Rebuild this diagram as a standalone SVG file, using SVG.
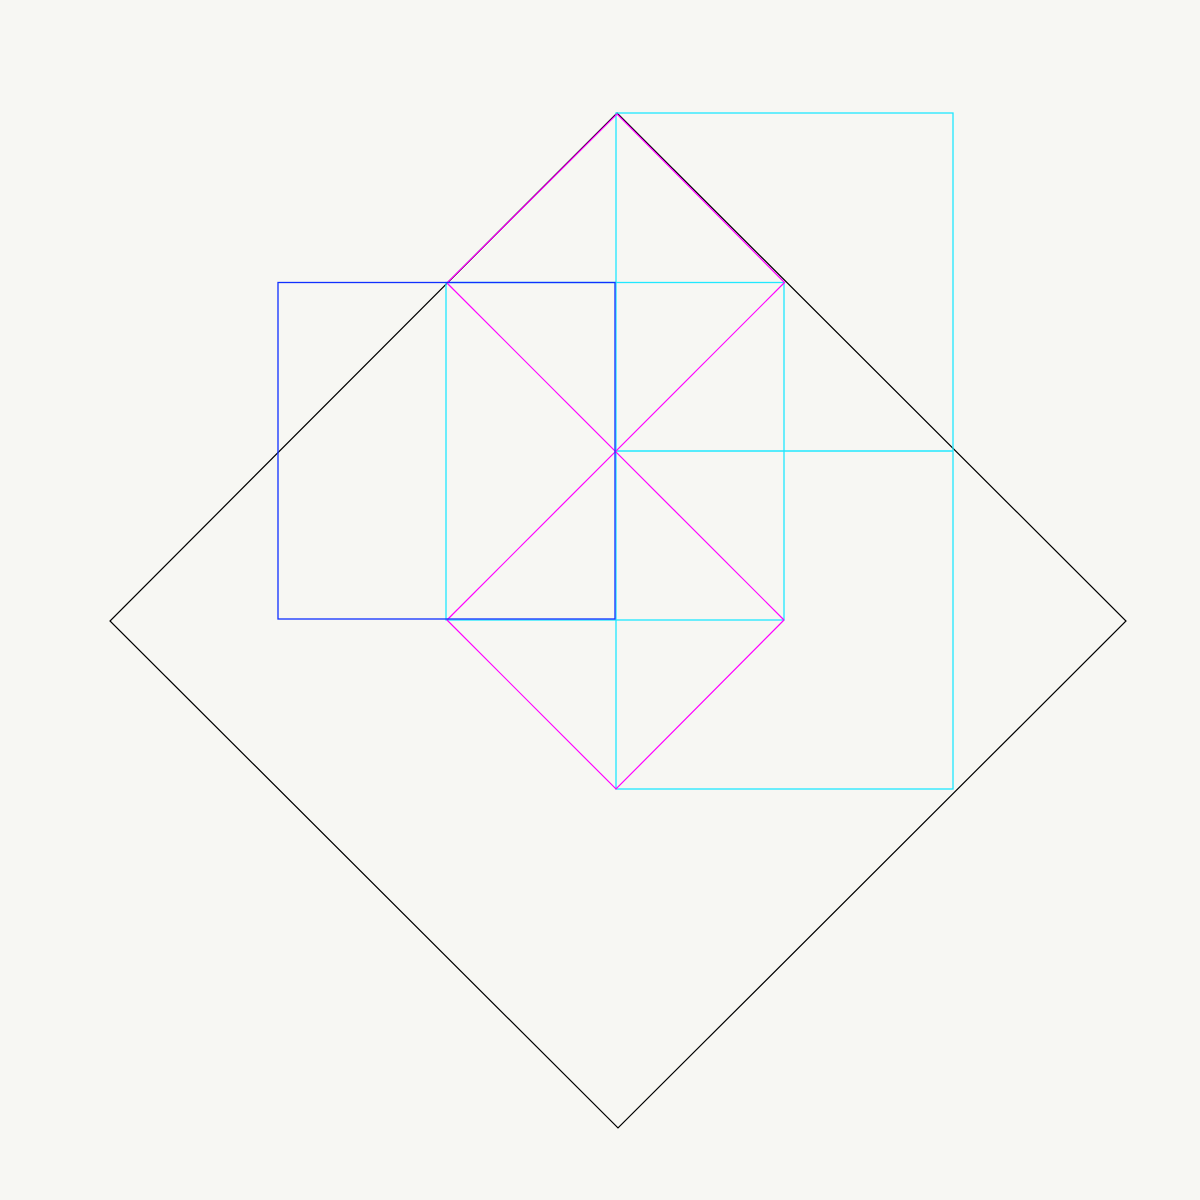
<svg xmlns="http://www.w3.org/2000/svg" width="1200" height="1200" viewBox="0 0 1200 1200">
<style>
.k{fill:none;stroke:#000;stroke-width:1.2}
.b{fill:none;stroke:#1030ff;stroke-width:1.3}
.c{fill:none;stroke:#20e8ff;stroke-width:1.3}
.m{fill:none;stroke:#ff00ff;stroke-width:1.2}
</style>
<rect width="1200" height="1200" fill="#f7f7f3"/>
<polygon class="k" points="617,113 1126,621 618,1128 110,621"/>
<g>
<rect class="c" x="616" y="113" width="337" height="676"/>
<line class="c" x1="616" y1="451" x2="953" y2="451"/>
<rect class="c" x="446" y="282.5" width="338" height="337.5"/>
</g>
<g>
<polyline class="m" points="447,283 617,114 785,283"/>
<line class="m" x1="447" y1="283" x2="784" y2="620"/>
<line class="m" x1="784" y1="283" x2="447" y2="620"/>
<polyline class="m" points="447,620 616,789 784,620"/>
</g>
<rect class="b" x="278" y="282.5" width="337" height="336.5"/>
</svg>
